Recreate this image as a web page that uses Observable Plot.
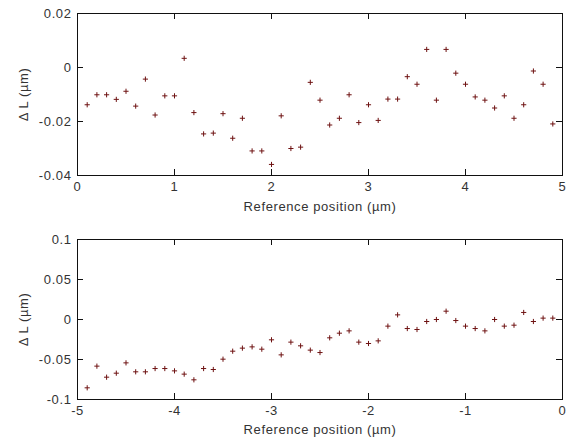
<!DOCTYPE html>
<html>
<head>
<meta charset="utf-8">
<script src="https://cdn.jsdelivr.net/npm/d3@7"></script>
<script src="https://cdn.jsdelivr.net/npm/@observablehq/plot@0.6"></script>
<style>
  html, body { margin: 0; padding: 0; background: #fff; }
  #chart { width: 568px; }
  #chart svg { display: block; }
</style>
</head>
<body>
<div id="chart"></div>
<script>
// ---- Data ----
const topX = [0.1,0.2,0.3,0.4,0.5,0.6,0.7,0.8,0.9,1.0,1.1,1.2,1.3,1.4,1.5,1.6,1.7,1.8,1.9,2.0,2.1,2.2,2.3,2.4,2.5,2.6,2.7,2.8,2.9,3.0,3.1,3.2,3.3,3.4,3.5,3.6,3.7,3.8,3.9,4.0,4.1,4.2,4.3,4.4,4.5,4.6,4.7,4.8,4.9];
const topDL = [-0.0138,-0.0101,-0.0101,-0.0118,-0.0088,-0.0143,-0.0043,-0.0176,-0.0105,-0.0105,0.0034,-0.0167,-0.0246,-0.0243,-0.0171,-0.0262,-0.0188,-0.0309,-0.0309,-0.0359,-0.0179,-0.0300,-0.0295,-0.0055,-0.0121,-0.0213,-0.0188,-0.0101,-0.0204,-0.0138,-0.0196,-0.0117,-0.0117,-0.0034,-0.0062,0.0067,-0.0121,0.0067,-0.0021,-0.0062,-0.0109,-0.0121,-0.0150,-0.0105,-0.0188,-0.0138,-0.0013,-0.0062,-0.0209];

const botX = [-4.9,-4.8,-4.7,-4.6,-4.5,-4.4,-4.3,-4.2,-4.1,-4.0,-3.9,-3.8,-3.7,-3.6,-3.5,-3.4,-3.3,-3.2,-3.1,-3.0,-2.9,-2.8,-2.7,-2.6,-2.5,-2.4,-2.3,-2.2,-2.1,-2.0,-1.9,-1.8,-1.7,-1.6,-1.5,-1.4,-1.3,-1.2,-1.1,-1.0,-0.9,-0.8,-0.7,-0.6,-0.5,-0.4,-0.3,-0.2,-0.1];
const botDL = [-0.0854,-0.0583,-0.0721,-0.0671,-0.0542,-0.0654,-0.0654,-0.0613,-0.0613,-0.0642,-0.0683,-0.0754,-0.0613,-0.0625,-0.0496,-0.0396,-0.0358,-0.0342,-0.0371,-0.0254,-0.0442,-0.0283,-0.0329,-0.0383,-0.0413,-0.0229,-0.0171,-0.0142,-0.0283,-0.0300,-0.0267,-0.0083,0.0058,-0.0113,-0.0125,-0.0025,0.0000,0.0104,-0.0013,-0.0083,-0.0113,-0.0142,0.0000,-0.0083,-0.0071,0.0088,-0.0025,0.0017,0.0017];

const topXTicks = [0,1,2,3,4,5];
const topYTicks = [-0.04,-0.02,0,0.02];
const botXTicks = [-5,-4,-3,-2,-1,0];
const botYTicks = [-0.1,-0.05,0,0.05,0.1];

const xLabel = "Reference position (µm)";
const yLabel = "Δ L (µm)";

// ---- Styling ----
const FONT = "'Liberation Sans', Arial, sans-serif";
const markerColor = "#6e1212";
const axisColor = "#111";
const TICK = 6;
const fmt = d => String(d);

// MATLAB-style inward ticks on all four sides (zero-length rules at the frame edge, extended by negative insets)
function inwardTicks(xTicks, yTicks, xDomain, yDomain) {
  const s = {stroke: axisColor, strokeWidth: 1};
  const [x0, x1] = xDomain, [y0, y1] = yDomain;
  return [
    Plot.ruleX(xTicks, {x: d => d, y1: y0, y2: y0, insetBottom: TICK, ...s}),
    Plot.ruleX(xTicks, {x: d => d, y1: y1, y2: y1, insetBottom: -TICK, ...s}),
    Plot.ruleY(yTicks, {y: d => d, x1: x0, x2: x0, insetRight: -TICK, ...s}),
    Plot.ruleY(yTicks, {y: d => d, x1: x1, x2: x1, insetLeft: -TICK, ...s})
  ];
}

function panel({xs, ys, xDomain, yDomain, xTicks, yTicks, height, marginTop, marginBottom, xLabelOffset}) {
  const data = xs.map((x, i) => ({x, y: ys[i]}));
  return Plot.plot({
    width: 568,
    height,
    marginTop,
    marginBottom,
    marginLeft: 77,
    marginRight: 6,
    style: {fontFamily: FONT, fontSize: "13px", letterSpacing: "0.6px", color: "#333", background: "#fff"},
    x: {domain: xDomain, label: xLabel},
    y: {domain: yDomain, label: yLabel},
    marks: [
      Plot.frame({stroke: axisColor, strokeWidth: 1}),
      Plot.axisX({anchor: "bottom", ticks: xTicks, tickFormat: fmt, tickSize: 0, tickPadding: 6,
                  label: xLabel, labelAnchor: "center", labelOffset: xLabelOffset, labelArrow: "none"}),
      Plot.axisY({anchor: "left", ticks: yTicks, tickFormat: fmt, tickSize: 0, tickPadding: 6,
                  label: yLabel, labelAnchor: "center", labelOffset: 59, labelArrow: "none"}),
      ...inwardTicks(xTicks, yTicks, xDomain, yDomain),
      Plot.dot(data, {x: "x", y: "y", symbol: "plus", r: 1.8, stroke: markerColor, strokeWidth: 1})
    ]
  });
}

const chart = document.getElementById("chart");
chart.append(panel({xs: topX, ys: topDL, xDomain: [0, 5], yDomain: [-0.04, 0.02],
  xTicks: topXTicks, yTicks: topYTicks, height: 221, marginTop: 13, marginBottom: 46, xLabelOffset: 35}));
chart.append(panel({xs: botX, ys: botDL, xDomain: [-5, 0], yDomain: [-0.1, 0.1],
  xTicks: botXTicks, yTicks: botYTicks, height: 222, marginTop: 18, marginBottom: 44, xLabelOffset: 34}));
</script>
</body>
</html>
